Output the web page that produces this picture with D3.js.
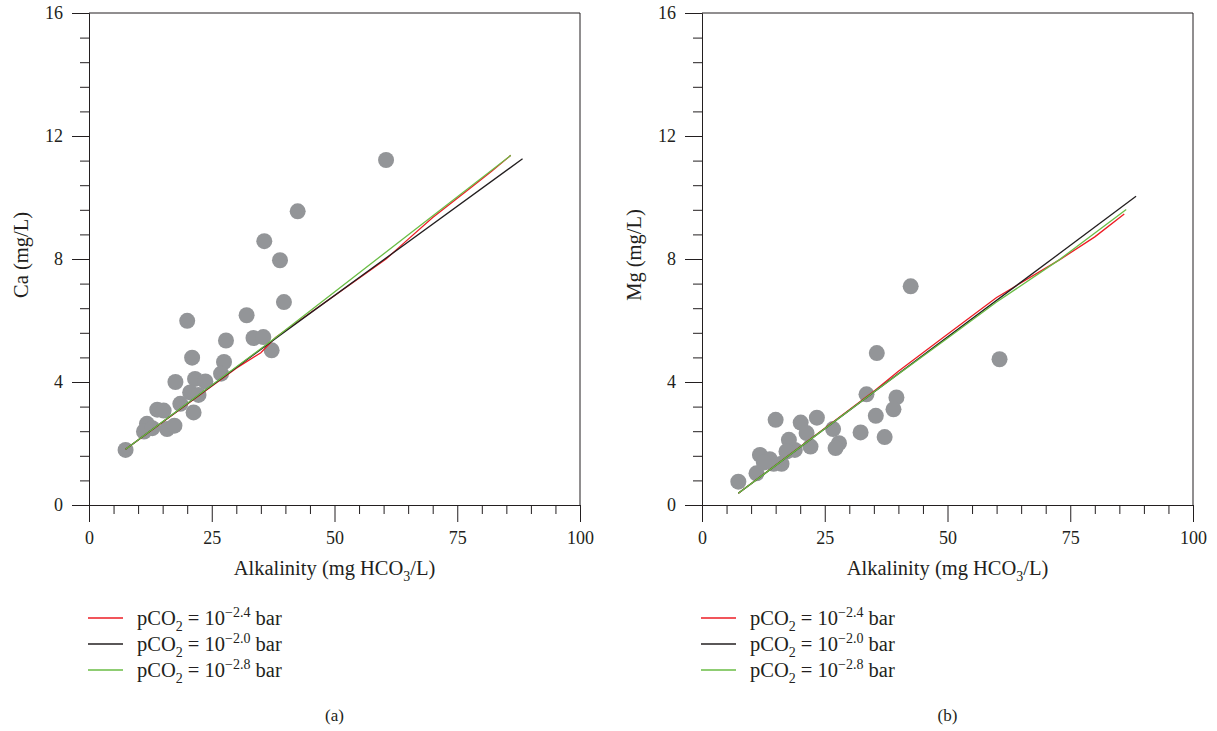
<!DOCTYPE html>
<html>
<head>
<meta charset="utf-8">
<script src="https://d3js.org/d3.v7.min.js"></script>
<style>
    body { margin: 0; background: #fff; }
    svg text { font-family: "Liberation Serif", "Times New Roman", serif; fill: #231f20; }
    .axis path, .axis line { stroke: #231f20; stroke-width: 1; }
</style>
</head>
<body>
<svg id="chart" width="1217" height="731"></svg>
<script>
// Ca panel (a) - measured points
var caAlk  = [7.45, 60.5, 42.5, 35.7, 38.9, 39.7, 20.0, 32.1, 27.9, 33.5, 35.5, 37.2, 21.0, 27.5, 26.9, 17.6, 21.6, 23.7, 20.6, 22.3, 18.6, 21.3, 13.9, 15.2, 11.8, 11.2, 12.9, 15.9, 17.4];
var caConc = [1.79, 11.22, 9.55, 8.58, 7.96, 6.60, 5.99, 6.17, 5.35, 5.43, 5.46, 5.03, 4.79, 4.65, 4.27, 4.00, 4.10, 4.02, 3.66, 3.58, 3.29, 3.01, 3.10, 3.07, 2.64, 2.39, 2.50, 2.47, 2.58];

// Mg panel (b) - measured points
var mgAlk  = [7.4, 42.5, 35.6, 60.6, 33.5, 39.6, 39.0, 35.4, 15.0, 23.4, 20.1, 26.7, 32.3, 37.2, 21.3, 17.7, 27.9, 27.2, 22.1, 18.9, 17.2, 11.8, 13.8, 16.2, 14.6, 11.1, 12.6];
var mgConc = [0.76, 7.11, 4.94, 4.74, 3.60, 3.50, 3.11, 2.90, 2.77, 2.84, 2.68, 2.47, 2.36, 2.21, 2.34, 2.12, 2.01, 1.85, 1.90, 1.79, 1.74, 1.63, 1.49, 1.34, 1.34, 1.03, 1.38];

// equilibrium curves, Ca
var caCurveAlk24 = [7.45, 30, 35, 38, 60.5, 64, 70, 78, 82, 85.9];
var caCurve24    = [1.81, 4.45, 4.95, 5.45, 8.0, 8.5, 9.35, 10.35, 10.85, 11.37];
var caCurveAlk20 = [7.45, 38.7, 88.3];
var caCurve20    = [1.81, 5.5, 11.26];
var caCurveAlk28 = [7.45, 37.9, 85.9];
var caCurve28    = [1.81, 5.43, 11.37];

// equilibrium curves, Mg
var mgCurveAlk24 = [7.4, 35.2, 40, 50, 60, 72.8, 80, 86.0];
var mgCurve24    = [0.38, 3.72, 4.35, 5.55, 6.75, 7.97, 8.72, 9.46];
var mgCurveAlk20 = [7.4, 88.4];
var mgCurve20    = [0.38, 10.04];
var mgCurveAlk28 = [7.4, 35.2, 50, 60, 72.8, 86.4];
var mgCurve28    = [0.38, 3.70, 5.42, 6.6, 7.98, 9.61];

var xTicks = [0, 25, 50, 75, 100];
var yTicks = [0, 4, 8, 12, 16];
var legendExp = ["\u22122.4", "\u22122.0", "\u22122.8"];
var legendColors = ["#ed1c24", "#231f20", "#6abd45"];

var svg = d3.select("#chart");

function zip(xs, ys) {
    return xs.map(function (x, i) { return [x, ys[i]]; });
}

function drawPanel(left, yName, caption, ptsX, ptsY, curves) {
    var x = d3.scaleLinear().domain([0, 100]).range([left, left + 491]);
    var y = d3.scaleLinear().domain([0, 16]).range([505, 13]);
    var g = svg.append("g");

    // minor ticks
    var xMinor = d3.range(0, 101, 5).filter(function (v) { return v % 25 !== 0; });
    var yMinor = d3.range(0, 21).filter(function (i) { return i % 5 !== 0; })
        .map(function (i) { return i * 0.8; });

    g.append("g").attr("class", "axis")
        .attr("transform", "translate(0,505)")
        .call(d3.axisBottom(x).tickValues(xMinor).tickSize(9).tickSizeOuter(0).tickFormat(""));
    g.append("g").attr("class", "axis")
        .attr("transform", "translate(" + left + ",0)")
        .call(d3.axisLeft(y).tickValues(yMinor).tickSize(9).tickSizeOuter(0).tickFormat(""));

    g.append("g").attr("class", "axis")
        .attr("transform", "translate(0,505)")
        .call(d3.axisBottom(x).tickValues(xTicks).tickSize(17).tickSizeOuter(0).tickPadding(9));
    g.append("g").attr("class", "axis")
        .attr("transform", "translate(" + left + ",0)")
        .call(d3.axisLeft(y).tickValues(yTicks).tickSize(17).tickSizeOuter(0).tickPadding(9));
    g.selectAll(".axis").attr("font-family", null).attr("font-size", null);
    g.selectAll(".axis text").style("font-size", "18px");

    // frame top and right
    g.append("line").attr("x1", x(0)).attr("x2", x(100)).attr("y1", y(16)).attr("y2", y(16))
        .attr("stroke", "#231f20");
    g.append("line").attr("x1", x(100)).attr("x2", x(100)).attr("y1", y(16)).attr("y2", y(0))
        .attr("stroke", "#231f20");

    // points
    g.selectAll("circle").data(zip(ptsX, ptsY)).enter().append("circle")
        .attr("cx", function (d) { return x(d[0]); })
        .attr("cy", function (d) { return y(d[1]); })
        .attr("r", 8)
        .attr("fill", "#939598");

    // curves
    var line = d3.line().x(function (d) { return x(d[0]); }).y(function (d) { return y(d[1]); });
    curves.forEach(function (c) {
        g.append("path").attr("d", line(c.pts))
            .attr("fill", "none").attr("stroke", c.color).attr("stroke-width", 1.3);
    });

    // axis titles
    var xt = g.append("text").attr("x", (x(0) + x(100)) / 2).attr("y", 575)
        .attr("text-anchor", "middle").style("font-size", "20.5px");
    xt.append("tspan").text("Alkalinity (mg HCO");
    xt.append("tspan").attr("dy", 6).style("font-size", "14px").text("3");
    xt.append("tspan").attr("dy", -6).text("/L)");

    g.append("text").attr("transform", "translate(" + (left - 61) + ",255) rotate(-90)")
        .attr("text-anchor", "middle").style("font-size", "20.5px").text(yName);

    // legend
    legendColors.forEach(function (col, i) {
        var ly = 618 + i * 26;
        g.append("line").attr("x1", left - 1).attr("x2", left + 34).attr("y1", ly).attr("y2", ly)
            .attr("stroke", col).attr("stroke-width", 1.3);
        var t = g.append("text").attr("x", left + 48).attr("y", ly + 7).style("font-size", "20.5px");
        t.append("tspan").text("pCO");
        t.append("tspan").attr("dy", 6).style("font-size", "14px").text("2");
        t.append("tspan").attr("dy", -6).text(" = 10");
        t.append("tspan").attr("dy", -8).style("font-size", "14px").text(legendExp[i]);
        t.append("tspan").attr("dy", 8).text(" bar");
    });

    // caption
    g.append("text").attr("x", (x(0) + x(100)) / 2).attr("y", 721)
        .attr("text-anchor", "middle").style("font-size", "17px").text(caption);
}

drawPanel(89, "Ca (mg/L)", "(a)", caAlk, caConc, [
    { pts: zip(caCurveAlk24, caCurve24), color: legendColors[0] },
    { pts: zip(caCurveAlk20, caCurve20), color: legendColors[1] },
    { pts: zip(caCurveAlk28, caCurve28), color: legendColors[2] }
]);

drawPanel(702, "Mg (mg/L)", "(b)", mgAlk, mgConc, [
    { pts: zip(mgCurveAlk24, mgCurve24), color: legendColors[0] },
    { pts: zip(mgCurveAlk20, mgCurve20), color: legendColors[1] },
    { pts: zip(mgCurveAlk28, mgCurve28), color: legendColors[2] }
]);
</script>
</body>
</html>
